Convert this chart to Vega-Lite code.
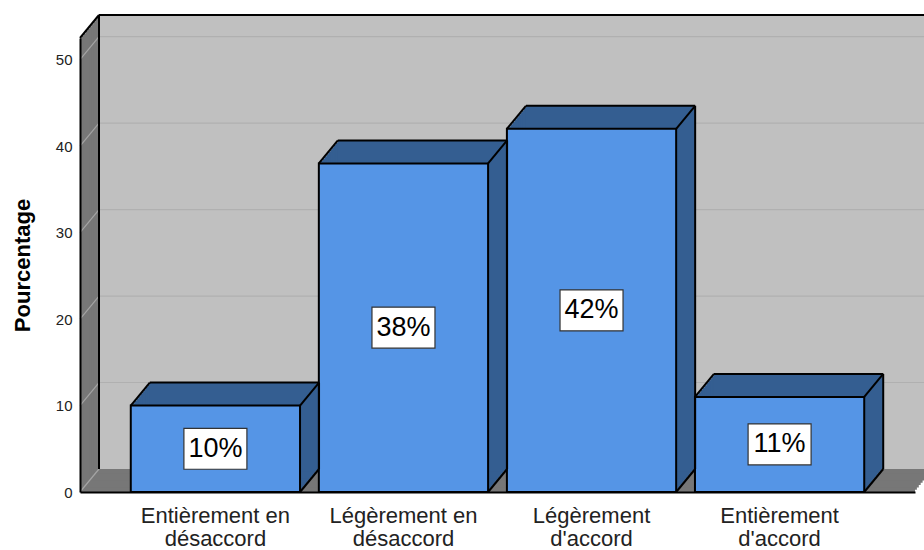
{
  "$schema": "https://vega.github.io/schema/vega-lite/v6.json",
  "width": 835,
  "height": 454,
  "autosize": {"type": "none"},
  "padding": {"left": 80, "top": 38, "right": 9, "bottom": 58},
  "background": "white",
  "config": {"view": {"stroke": null}, "font": "Liberation Sans"},
  "resolve": {"axis": {"x": "independent", "y": "independent"}},
  "data": {
    "values": [
      {"categorie": "Entièrement en désaccord", "pourcentage": 10},
      {"categorie": "Légèrement en désaccord", "pourcentage": 38},
      {"categorie": "Légèrement d'accord", "pourcentage": 42},
      {"categorie": "Entièrement d'accord", "pourcentage": 11}
    ]
  },
  "layer": [
    {"data": {"values": [{}]}, "mark": {"type": "rect", "color": "#777777"},
     "encoding": {"x": {"datum": "Entièrement en désaccord", "type": "nominal", "bandPosition": -0.3, "axis": null,
                        "scale": {"domain": ["Entièrement en désaccord", "Légèrement en désaccord", "Légèrement d'accord", "Entièrement d'accord"],
                                  "paddingInner": 0.1, "paddingOuter": 0.27}},
                  "x2": {"datum": "Entièrement d'accord", "bandPosition": 1.3},
                  "y": {"datum": 0, "type": "quantitative", "scale": {"domain": [0, 52.5], "nice": false, "zero": true},
                        "axis": {"values": [0, 10, 20, 30, 40, 50], "grid": false, "ticks": false, "tickSize": 0, "domain": true, "domainColor": "black", "domainWidth": 2,
                                 "labelFontSize": 15, "labelColor": "#222222", "labelPadding": 8, "title": "Pourcentage", "titleFontSize": 22,
                                 "titleFontWeight": "bold", "titleColor": "black", "titlePadding": 21, "zindex": 1}},
                  "y2": {"datum": 52.5}}},
    {"data": {"values": [{}]}, "mark": {"type": "rect", "color": "#777777", "xOffset": 1.9, "x2Offset": 1.9, "yOffset": -2.3, "y2Offset": -2.3},
     "encoding": {"x": {"datum": "Entièrement en désaccord", "type": "nominal", "bandPosition": -0.3, "axis": null}, "x2": {"datum": "Entièrement d'accord", "bandPosition": 1.3},
                  "y": {"datum": 0, "type": "quantitative", "axis": null}, "y2": {"datum": 52.5}}},
    {"data": {"values": [{}]}, "mark": {"type": "rect", "color": "#777777", "xOffset": 3.8, "x2Offset": 3.8, "yOffset": -4.6, "y2Offset": -4.6},
     "encoding": {"x": {"datum": "Entièrement en désaccord", "type": "nominal", "bandPosition": -0.3, "axis": null}, "x2": {"datum": "Entièrement d'accord", "bandPosition": 1.3},
                  "y": {"datum": 0, "type": "quantitative", "axis": null}, "y2": {"datum": 52.5}}},
    {"data": {"values": [{}]}, "mark": {"type": "rect", "color": "#777777", "xOffset": 5.7, "x2Offset": 5.7, "yOffset": -6.9, "y2Offset": -6.9},
     "encoding": {"x": {"datum": "Entièrement en désaccord", "type": "nominal", "bandPosition": -0.3, "axis": null}, "x2": {"datum": "Entièrement d'accord", "bandPosition": 1.3},
                  "y": {"datum": 0, "type": "quantitative", "axis": null}, "y2": {"datum": 52.5}}},
    {"data": {"values": [{}]}, "mark": {"type": "rect", "color": "#777777", "xOffset": 7.6, "x2Offset": 7.6, "yOffset": -9.2, "y2Offset": -9.2},
     "encoding": {"x": {"datum": "Entièrement en désaccord", "type": "nominal", "bandPosition": -0.3, "axis": null}, "x2": {"datum": "Entièrement d'accord", "bandPosition": 1.3},
                  "y": {"datum": 0, "type": "quantitative", "axis": null}, "y2": {"datum": 52.5}}},
    {"data": {"values": [{}]}, "mark": {"type": "rect", "color": "#777777", "xOffset": 9.5, "x2Offset": 9.5, "yOffset": -11.5, "y2Offset": -11.5},
     "encoding": {"x": {"datum": "Entièrement en désaccord", "type": "nominal", "bandPosition": -0.3, "axis": null}, "x2": {"datum": "Entièrement d'accord", "bandPosition": 1.3},
                  "y": {"datum": 0, "type": "quantitative", "axis": null}, "y2": {"datum": 52.5}}},
    {"data": {"values": [{}]}, "mark": {"type": "rect", "color": "#777777", "xOffset": 11.4, "x2Offset": 11.4, "yOffset": -13.8, "y2Offset": -13.8},
     "encoding": {"x": {"datum": "Entièrement en désaccord", "type": "nominal", "bandPosition": -0.3, "axis": null}, "x2": {"datum": "Entièrement d'accord", "bandPosition": 1.3},
                  "y": {"datum": 0, "type": "quantitative", "axis": null}, "y2": {"datum": 52.5}}},
    {"data": {"values": [{}]}, "mark": {"type": "rect", "color": "#777777", "xOffset": 13.3, "x2Offset": 13.3, "yOffset": -16.1, "y2Offset": -16.1},
     "encoding": {"x": {"datum": "Entièrement en désaccord", "type": "nominal", "bandPosition": -0.3, "axis": null}, "x2": {"datum": "Entièrement d'accord", "bandPosition": 1.3},
                  "y": {"datum": 0, "type": "quantitative", "axis": null}, "y2": {"datum": 52.5}}},
    {"data": {"values": [{}]}, "mark": {"type": "rect", "color": "#777777", "xOffset": 15.2, "x2Offset": 15.2, "yOffset": -18.4, "y2Offset": -18.4},
     "encoding": {"x": {"datum": "Entièrement en désaccord", "type": "nominal", "bandPosition": -0.3, "axis": null}, "x2": {"datum": "Entièrement d'accord", "bandPosition": 1.3},
                  "y": {"datum": 0, "type": "quantitative", "axis": null}, "y2": {"datum": 52.5}}},
    {"data": {"values": [{}]}, "mark": {"type": "rect", "color": "#777777", "xOffset": 17.1, "x2Offset": 17.1, "yOffset": -20.7, "y2Offset": -20.7},
     "encoding": {"x": {"datum": "Entièrement en désaccord", "type": "nominal", "bandPosition": -0.3, "axis": null}, "x2": {"datum": "Entièrement d'accord", "bandPosition": 1.3},
                  "y": {"datum": 0, "type": "quantitative", "axis": null}, "y2": {"datum": 52.5}}},
    {"data": {"values": [{}]}, "mark": {"type": "rect", "color": "#777777", "xOffset": 19, "x2Offset": 19, "yOffset": -23, "y2Offset": -23},
     "encoding": {"x": {"datum": "Entièrement en désaccord", "type": "nominal", "bandPosition": -0.3, "axis": null}, "x2": {"datum": "Entièrement d'accord", "bandPosition": 1.3},
                  "y": {"datum": 0, "type": "quantitative", "axis": null}, "y2": {"datum": 52.5}}},

    {"data": {"values": [{}]}, "mark": {"type": "rect", "color": "#c0c0c0", "xOffset": 19, "x2Offset": 19, "yOffset": -23, "y2Offset": -23},
     "encoding": {"x": {"datum": "Entièrement en désaccord", "type": "nominal", "bandPosition": -0.3, "axis": null}, "x2": {"datum": "Entièrement d'accord", "bandPosition": 1.3},
                  "y": {"datum": 0, "type": "quantitative", "axis": null}, "y2": {"datum": 52.5}}},

    {"data": {"values": [{"graduation": 10}, {"graduation": 20}, {"graduation": 30}, {"graduation": 40}, {"graduation": 50}]},
     "mark": {"type": "rule", "color": "#b0b0b0", "strokeWidth": 1.2, "xOffset": 19, "x2Offset": 19, "yOffset": -23},
     "encoding": {"x": {"datum": "Entièrement en désaccord", "type": "nominal", "bandPosition": -0.3, "axis": null}, "x2": {"datum": "Entièrement d'accord", "bandPosition": 1.3},
                  "y": {"field": "graduation", "type": "quantitative", "axis": null}}},

    {"data": {"values": [{"graduation": 0}, {"graduation": 10}, {"graduation": 20}, {"graduation": 30}, {"graduation": 40}, {"graduation": 50}]},
     "mark": {"type": "rule", "color": "#a4a4a4", "strokeWidth": 1.2, "x2Offset": 19, "y2Offset": -23},
     "encoding": {"x": {"datum": "Entièrement en désaccord", "type": "nominal", "bandPosition": -0.3, "axis": null},
                  "x2": {"datum": "Entièrement en désaccord", "bandPosition": -0.3},
                  "y": {"field": "graduation", "type": "quantitative", "axis": null},
                  "y2": {"field": "graduation"}}},

    {"data": {"values": [{}]}, "mark": {"type": "rule", "color": "black", "strokeWidth": 2, "xOffset": 19, "x2Offset": 19, "yOffset": -23},
     "encoding": {"x": {"datum": "Entièrement en désaccord", "type": "nominal", "bandPosition": -0.3, "axis": null}, "x2": {"datum": "Entièrement d'accord", "bandPosition": 1.3},
                  "y": {"datum": 52.5, "type": "quantitative", "axis": null}}},
    {"data": {"values": [{}]}, "mark": {"type": "rule", "color": "black", "strokeWidth": 2, "xOffset": 19, "yOffset": -23, "y2Offset": -23},
     "encoding": {"x": {"datum": "Entièrement en désaccord", "type": "nominal", "bandPosition": -0.3, "axis": null},
                  "y": {"datum": 0, "type": "quantitative", "axis": null}, "y2": {"datum": 52.5}}},
    {"data": {"values": [{}]}, "mark": {"type": "rule", "color": "black", "strokeWidth": 2, "x2Offset": 19, "y2Offset": -23},
     "encoding": {"x": {"datum": "Entièrement en désaccord", "type": "nominal", "bandPosition": -0.3, "axis": null},
                  "x2": {"datum": "Entièrement en désaccord", "bandPosition": -0.3},
                  "y": {"datum": 52.5, "type": "quantitative", "axis": null}, "y2": {"datum": 52.5}}},

    {"mark": {"type": "bar", "color": "#345e91", "xOffset": 1.9, "x2Offset": 1.9, "yOffset": -2.3, "y2Offset": -2.3},
     "encoding": {"x": {"field": "categorie", "type": "nominal", "sort": null, "axis": null}, "y": {"field": "pourcentage", "type": "quantitative", "axis": null}}},
    {"mark": {"type": "bar", "color": "#345e91", "xOffset": 3.8, "x2Offset": 3.8, "yOffset": -4.6, "y2Offset": -4.6},
     "encoding": {"x": {"field": "categorie", "type": "nominal", "sort": null, "axis": null}, "y": {"field": "pourcentage", "type": "quantitative", "axis": null}}},
    {"mark": {"type": "bar", "color": "#345e91", "xOffset": 5.7, "x2Offset": 5.7, "yOffset": -6.9, "y2Offset": -6.9},
     "encoding": {"x": {"field": "categorie", "type": "nominal", "sort": null, "axis": null}, "y": {"field": "pourcentage", "type": "quantitative", "axis": null}}},
    {"mark": {"type": "bar", "color": "#345e91", "xOffset": 7.6, "x2Offset": 7.6, "yOffset": -9.2, "y2Offset": -9.2},
     "encoding": {"x": {"field": "categorie", "type": "nominal", "sort": null, "axis": null}, "y": {"field": "pourcentage", "type": "quantitative", "axis": null}}},
    {"mark": {"type": "bar", "color": "#345e91", "xOffset": 9.5, "x2Offset": 9.5, "yOffset": -11.5, "y2Offset": -11.5},
     "encoding": {"x": {"field": "categorie", "type": "nominal", "sort": null, "axis": null}, "y": {"field": "pourcentage", "type": "quantitative", "axis": null}}},
    {"mark": {"type": "bar", "color": "#345e91", "xOffset": 11.4, "x2Offset": 11.4, "yOffset": -13.8, "y2Offset": -13.8},
     "encoding": {"x": {"field": "categorie", "type": "nominal", "sort": null, "axis": null}, "y": {"field": "pourcentage", "type": "quantitative", "axis": null}}},
    {"mark": {"type": "bar", "color": "#345e91", "xOffset": 13.3, "x2Offset": 13.3, "yOffset": -16.1, "y2Offset": -16.1},
     "encoding": {"x": {"field": "categorie", "type": "nominal", "sort": null, "axis": null}, "y": {"field": "pourcentage", "type": "quantitative", "axis": null}}},
    {"mark": {"type": "bar", "color": "#345e91", "xOffset": 15.2, "x2Offset": 15.2, "yOffset": -18.4, "y2Offset": -18.4},
     "encoding": {"x": {"field": "categorie", "type": "nominal", "sort": null, "axis": null}, "y": {"field": "pourcentage", "type": "quantitative", "axis": null}}},
    {"mark": {"type": "bar", "color": "#345e91", "xOffset": 17.1, "x2Offset": 17.1, "yOffset": -20.7, "y2Offset": -20.7},
     "encoding": {"x": {"field": "categorie", "type": "nominal", "sort": null, "axis": null}, "y": {"field": "pourcentage", "type": "quantitative", "axis": null}}},
    {"mark": {"type": "bar", "color": "#345e91", "xOffset": 19, "x2Offset": 19, "yOffset": -23, "y2Offset": -23},
     "encoding": {"x": {"field": "categorie", "type": "nominal", "sort": null, "axis": null}, "y": {"field": "pourcentage", "type": "quantitative", "axis": null}}},

    {"mark": {"type": "bar", "fill": "#5595e6", "stroke": "black", "strokeWidth": 2},
     "encoding": {"x": {"field": "categorie", "type": "nominal", "sort": null,
                        "scale": {"domain": ["Entièrement en désaccord", "Légèrement en désaccord", "Légèrement d'accord", "Entièrement d'accord"],
                                  "paddingInner": 0.1, "paddingOuter": 0.27},
                        "axis": {"title": null, "ticks": false, "tickSize": 0, "domain": true, "domainColor": "black", "domainWidth": 2,
                                 "labelAngle": 0, "labelFontSize": 22, "labelColor": "#222222", "labelPadding": 13, "labelLineHeight": 23,
                                 "labelLimit": 0, "labelOverlap": false, "zindex": 1,
                                 "labelExpr": "[slice(datum.label, 0, lastindexof(datum.label, ' ')), slice(datum.label, lastindexof(datum.label, ' ') + 1)]"}},
                  "y": {"field": "pourcentage", "type": "quantitative", "axis": null}}},

    {"mark": {"type": "rule", "color": "black", "strokeWidth": 2, "xOffset": 19, "x2Offset": 19, "yOffset": -23},
     "encoding": {"x": {"field": "categorie", "type": "nominal", "sort": null, "bandPosition": 0, "axis": null},
                  "x2": {"field": "categorie", "bandPosition": 1},
                  "y": {"field": "pourcentage", "type": "quantitative", "axis": null}}},
    {"mark": {"type": "rule", "color": "black", "strokeWidth": 2, "xOffset": 19, "yOffset": -23, "y2Offset": -23},
     "encoding": {"x": {"field": "categorie", "type": "nominal", "sort": null, "bandPosition": 1, "axis": null},
                  "y": {"field": "pourcentage", "type": "quantitative", "axis": null},
                  "y2": {"datum": 0}}},
    {"mark": {"type": "rule", "color": "black", "strokeWidth": 2, "x2Offset": 19, "y2Offset": -23},
     "encoding": {"x": {"field": "categorie", "type": "nominal", "sort": null, "bandPosition": 0, "axis": null},
                  "x2": {"field": "categorie", "bandPosition": 0},
                  "y": {"field": "pourcentage", "type": "quantitative", "axis": null},
                  "y2": {"field": "pourcentage"}}},
    {"mark": {"type": "rule", "color": "black", "strokeWidth": 2, "x2Offset": 19, "y2Offset": -23},
     "encoding": {"x": {"field": "categorie", "type": "nominal", "sort": null, "bandPosition": 1, "axis": null},
                  "x2": {"field": "categorie", "bandPosition": 1},
                  "y": {"field": "pourcentage", "type": "quantitative", "axis": null},
                  "y2": {"field": "pourcentage"}}},
    {"mark": {"type": "rule", "color": "black", "strokeWidth": 2, "x2Offset": 19, "y2Offset": -23},
     "encoding": {"x": {"field": "categorie", "type": "nominal", "sort": null, "bandPosition": 1, "axis": null},
                  "x2": {"field": "categorie", "bandPosition": 1},
                  "y": {"datum": 0, "type": "quantitative", "axis": null},
                  "y2": {"datum": 0}}},

    {"mark": {"type": "point", "shape": "M-1,-0.65H1V0.65H-1Z", "size": 3969, "filled": true, "fill": "white", "stroke": "#333333", "strokeWidth": 1.2, "opacity": 1},
     "encoding": {"x": {"field": "categorie", "type": "nominal", "sort": null, "axis": null},
                  "y": {"field": "pourcentage", "type": "quantitative", "stack": "zero", "bandPosition": 0.5, "axis": null}}},
    {"transform": [{"calculate": "datum.pourcentage + '%'", "as": "etiquette"}],
     "mark": {"type": "text", "fontSize": 27, "color": "black", "baseline": "middle", "align": "center"},
     "encoding": {"x": {"field": "categorie", "type": "nominal", "sort": null, "axis": null},
                  "y": {"field": "pourcentage", "type": "quantitative", "stack": "zero", "bandPosition": 0.5, "axis": null},
                  "text": {"field": "etiquette"}}}
  ]
}
